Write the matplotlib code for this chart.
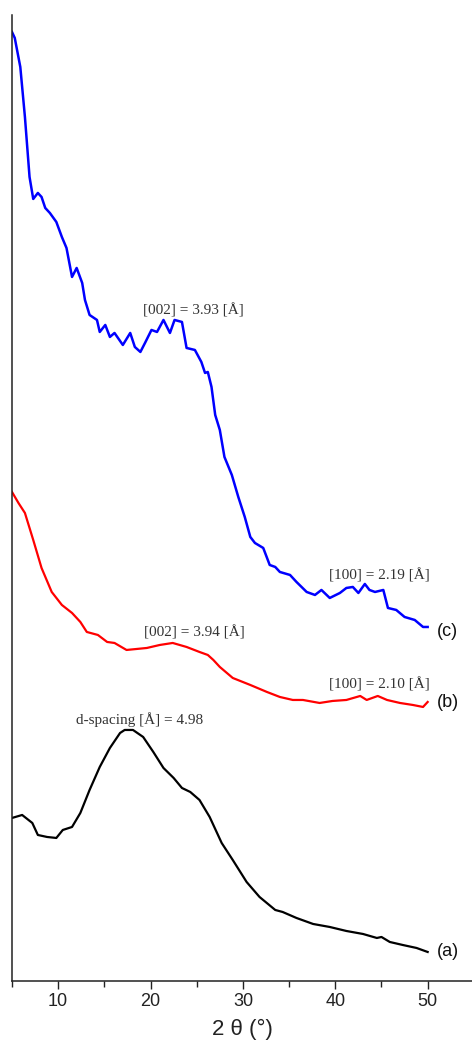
import numpy as np
import matplotlib.pyplot as plt

# ============================================================
# data (intensity in arbitrary units)
# ============================================================
two_theta_c = [5.0, 5.3, 5.9, 6.4, 6.9, 7.3, 7.8, 8.2, 8.6, 9.1, 9.8, 10.4, 10.9, 11.5, 12.0,
               12.6, 12.9, 13.4, 14.2, 14.5, 15.1, 15.6, 16.1, 17.0, 17.8, 18.3, 18.9, 19.4, 20.1,
               20.7, 21.4, 22.1, 22.6, 23.4, 23.9, 24.8, 25.5, 25.9, 26.2, 26.6, 27.0, 27.5, 28.0,
               28.8, 29.5, 30.2, 30.8, 31.3, 32.2, 32.9, 33.5, 34.0, 35.1, 35.8, 36.9, 37.8, 38.5,
               39.4, 40.5, 41.2, 41.9, 42.5, 43.2, 43.7, 44.3, 45.2, 45.7, 46.6, 47.5, 48.6, 49.5, 50.0]
intensity_c = [949, 943, 914, 864, 804, 782, 788, 784, 773, 768, 759, 744, 733, 704, 713,
               698, 681, 666, 661, 649, 656, 644, 648, 636, 648, 634, 629, 638, 651,
               649, 661, 648, 661, 659, 633, 631, 619, 608, 609, 594, 566, 551, 524,
               506, 484, 464, 444, 438, 433, 416, 414, 409, 406, 399, 389, 386, 391,
               383, 388, 393, 394, 388, 397, 391, 389, 391, 373, 371, 364, 361, 354, 354]

two_theta_b = [5.0, 5.7, 6.4, 7.3, 8.2, 9.3, 10.4, 11.5, 12.4, 13.1, 14.3, 15.3, 16.1, 17.4,
               18.5, 19.6, 21.0, 22.4, 23.9, 25.3, 26.2, 26.8, 27.5, 28.9, 30.8, 32.6, 34.0,
               35.4, 36.5, 38.3, 39.7, 41.2, 42.7, 43.4, 44.6, 45.6, 47.0, 48.4, 49.5, 50.0]
intensity_b = [489, 478, 468, 441, 413, 389, 376, 368, 359, 349, 346, 339, 338, 331,
               332, 333, 336, 338, 334, 329, 326, 321, 314, 303, 296, 289, 284,
               281, 281, 278, 280, 281, 285, 281, 285, 281, 278, 276, 274, 279]

two_theta_a = [5.0, 6.1, 7.2, 7.8, 8.8, 9.8, 10.5, 11.5, 12.4, 13.4, 14.5, 15.6, 16.7, 17.2,
               18.1, 19.2, 20.3, 21.4, 22.5, 23.4, 24.3, 25.3, 26.4, 27.7, 28.9, 30.4, 31.8,
               33.5, 34.3, 35.8, 37.6, 39.4, 41.2, 43.0, 44.5, 45.0, 45.9, 47.3, 48.8, 50.0]
intensity_a = [163, 166, 158, 146, 144, 143, 151, 154, 168, 191, 214, 233, 248, 251,
               251, 244, 229, 213, 203, 193, 189, 181, 164, 138, 121, 99, 84,
               71, 69, 63, 57, 54, 50, 47, 43, 44, 39, 36, 33, 29]

# peak annotations: text, x, y
peak_texts = ["[002] = 3.93 [Å]", "[100] = 2.19 [Å]", "[002] = 3.94 [Å]",
              "[100] = 2.10 [Å]", "d-spacing [Å] = 4.98"]
peak_x = [24.6, 44.8, 24.7, 44.8, 18.8]
peak_y = [671, 406, 349, 297, 261]

curve_tags = ["(c)", "(b)", "(a)"]
tag_y = [349, 278, 29]

# ============================================================
# plot
# ============================================================
fig = plt.figure(figsize=(4.72, 10.53), dpi=100)
ax = fig.add_axes([0.0254, 0.0684, 0.9746, 0.9174])

ax.plot(two_theta_c, intensity_c, color="#0000ff", lw=1.8)
ax.plot(two_theta_b, intensity_b, color="#ff0000", lw=1.6)
ax.plot(two_theta_a, intensity_a, color="black", lw=1.6)

for t, x, y in zip(peak_texts, peak_x, peak_y):
    ax.text(x, y, t, ha="center", va="center", fontsize=11,
            family="Liberation Serif", color="#333333")

for t, y in zip(curve_tags, tag_y):
    ax.text(51.0, y, t, ha="left", va="center", fontsize=13,
            family="Liberation Sans", color="#111111")

ax.set_xlim(5, 54.8)
ax.set_ylim(0, 966)
ax.set_xticks([10, 20, 30, 40, 50])
ax.set_xticks([5, 15, 25, 35, 45], minor=True)
ax.set_yticks([])

for s in ["top", "right"]:
    ax.spines[s].set_visible(False)
for s in ["left", "bottom"]:
    ax.spines[s].set_linewidth(1.1)
    ax.spines[s].set_color("#222222")

ax.tick_params(axis="x", which="major", direction="out", length=6, width=1.0,
               pad=3, labelsize=13, colors="#222222")
ax.tick_params(axis="x", which="minor", direction="out", length=4, width=1.0,
               colors="#222222")
for lab in ax.get_xticklabels():
    lab.set_family("Liberation Sans")

ax.set_xlabel("2 θ (°)", fontsize=16, family="Liberation Sans", labelpad=6,
              color="#222222")

plt.savefig("out.png", dpi=100)
